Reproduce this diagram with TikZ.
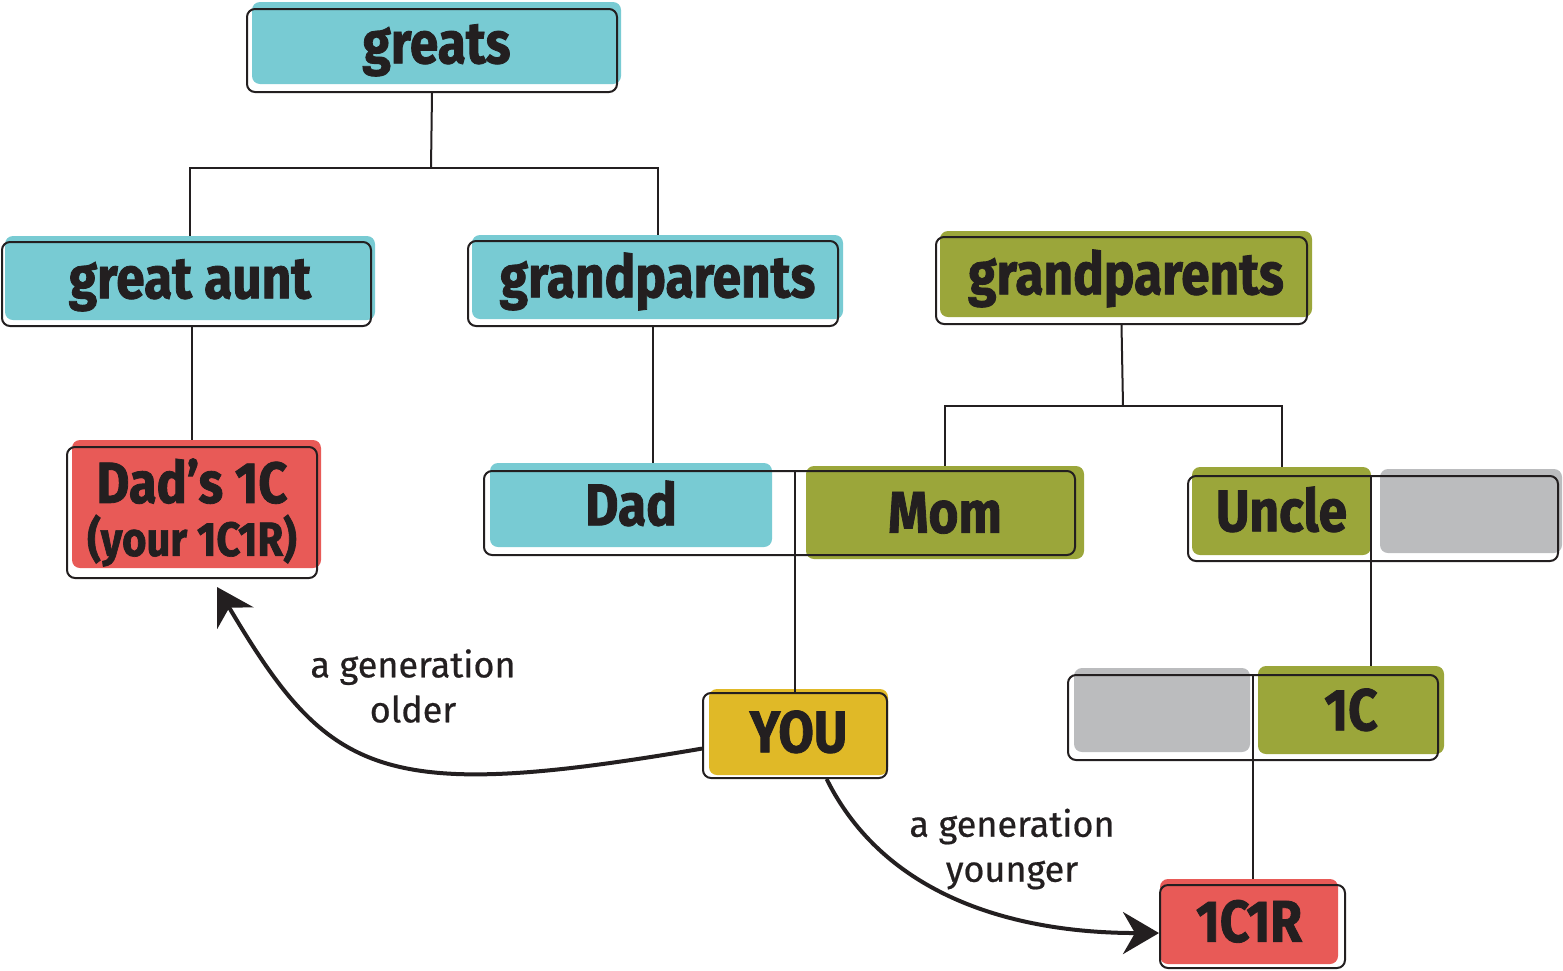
\documentclass[tikz,border=0pt]{standalone}
\usepackage{fontspec}
\setmainfont{Fira Sans}
\newfontfamily\boxfont{Fira Sans}[FakeStretch=0.87, FakeBold=1.4]
\newfontfamily\labelfont{Fira Sans}[FakeBold=0.6]
\usetikzlibrary{arrows.meta}

\definecolor{ink}{HTML}{231F20}
\definecolor{famteal}{HTML}{78CBD3}
\definecolor{famolive}{HTML}{9BA63A}
\definecolor{famred}{HTML}{E85A57}
\definecolor{famyellow}{HTML}{E0B927}
\definecolor{famgray}{HTML}{BBBCBE}

\tikzset{
  famfill/.style={rounded corners=4pt, inner sep=0pt, text=ink,
    font={\boxfont\bfseries\fontsize{29.5}{32}\selectfont}},
  onerow/.style={text height=20.3pt, text depth=0pt},
  frame/.style={draw=ink, line width=1pt, rounded corners=4pt, inner sep=0pt},
  tree/.style={draw=ink, line width=1pt},
  gen/.style={draw=ink, line width=2pt, -{Stealth[length=18pt, width=21pt, inset=6pt]}},
  genlabel/.style={font={\labelfont\fontsize{18}{22.5}\selectfont}, align=center, text=ink}
}

\begin{document}
\begin{tikzpicture}[x=0.5pt, y=-0.5pt]
  \useasboundingbox (0,0) rectangle (1563,970);

  % Fills
  \node[famfill, onerow, fill=famteal, minimum width=184.5pt, minimum height=41pt] (greats) at (436.5,43) {greats};
  \node[famfill, onerow, fill=famteal, minimum width=185pt, minimum height=42pt] (aunt) at (190,278) {great aunt};
  \node[famfill, onerow, fill=famteal, minimum width=185.5pt, minimum height=42pt] (gpa) at (657.5,277) {grandparents};
  \node[famfill, onerow, fill=famolive, minimum width=186pt, minimum height=43pt] (gpb) at (1126,274) {grandparents};
  \node[famfill, fill=famred, minimum width=124.5pt, minimum height=64pt] (dadc) at (196.5,504) {};
  \node[famfill, onerow, fill=famteal, minimum width=141pt, minimum height=42pt] (dad) at (631,505) {Dad};
  \node[famfill, onerow, fill=famolive, minimum width=139pt, minimum height=46.5pt] (mom) at (945,512.5) {Mom};
  \node[famfill, onerow, fill=famolive, minimum width=89.5pt, minimum height=44pt] (uncle) at (1281.5,511) {Uncle};
  \node[famfill, fill=famgray, minimum width=91pt, minimum height=42pt] (uspouse) at (1471,511) {};
  \node[famfill, fill=famgray, minimum width=88pt, minimum height=42pt] (cspouse) at (1162,710) {};
  \node[famfill, onerow, fill=famolive, minimum width=93pt, minimum height=44pt] (cousin) at (1351,710) {1C};
  \node[famfill, onerow, fill=famyellow, minimum width=89.5pt, minimum height=43pt] (you) at (798.5,732) {YOU};
  \node[famfill, onerow, fill=famred, minimum width=89pt, minimum height=42.5pt] (cousinr) at (1249,921.5) {1C1R};

  % Frames
  \node[frame, minimum width=185pt, minimum height=41.5pt] (greatsbox) at (432,50.5) {};
  \node[frame, minimum width=184.5pt, minimum height=42pt] (auntbox) at (186.5,284) {};
  \node[frame, minimum width=185pt, minimum height=42.5pt] (gpabox) at (653,283.5) {};
  \node[frame, minimum width=185.5pt, minimum height=43.5pt] (gpbbox) at (1121.5,280.5) {};
  \node[frame, famfill, draw=ink, minimum width=125pt, minimum height=65.5pt, align=center,
    font={\boxfont\bfseries\fontsize{29}{26.5}\selectfont}] (dadcbox) at (192,512.5)
    {Dad’s 1C\\{\fontsize{24}{26.5}\selectfont(your 1C1R)}};
  \node[frame, minimum width=295.5pt, minimum height=42pt] (parentsbox) at (779.5,513) {};
  \node[frame, minimum width=185pt, minimum height=42.5pt] (unclebox) at (1373,518.5) {};
  \node[frame, minimum width=185pt, minimum height=42.5pt] (cousinbox) at (1253,717.5) {};
  \node[frame, minimum width=92pt, minimum height=42.5pt] (youbox) at (795,735.5) {};
  \node[frame, minimum width=92.5pt, minimum height=41.5pt] (cousinrbox) at (1252.5,926.5) {};

  % Edges
  \coordinate (greatsbus) at (431,168);
  \coordinate (gpbbus) at (1123,406);
  \draw[tree] (greatsbox.south) -- (greatsbus);
  \draw[tree] (aunt.north) -- (aunt.north |- greatsbus) -- (gpa.north |- greatsbus) -- (gpa.north);
  \draw[tree] (dadcbox.north |- auntbox.south) -- (dadcbox.north |- dadc.north);
  \draw[tree] (gpabox.south) -- (gpabox.south |- dad.north);
  \draw[tree] (gpbbox.south) -- (gpbbus);
  \draw[tree] (mom.north) -- (mom.north |- gpbbus) -- (uncle.north |- gpbbus) -- (uncle.north);
  \draw[tree] (youbox.north |- parentsbox.north) -- (youbox.north);
  \draw[tree] (uncle.north east |- unclebox.north) -- (uncle.north east |- cousin.north);
  \draw[tree] (cousinrbox.north |- cousinbox.north) -- (cousinrbox.north |- cousinr.north);

  % Generation arrows
  \coordinate (olderend) at (217,587);
  \draw[gen] (youbox.188) .. controls (378,804) and (329,776) .. (olderend);
  \draw[gen] (youbox.-54) .. controls (884.5,895.7) and (1013,933) .. (cousinrbox.184);
  \node[genlabel] (olderlabel) at (413,686) {a generation\\older};
  \node[genlabel] (youngerlabel) at (1012,849) {a generation\\younger};
\end{tikzpicture}
\end{document}
